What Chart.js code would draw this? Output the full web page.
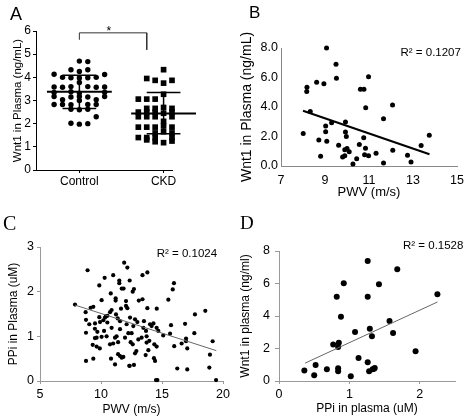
<!DOCTYPE html>
<html>
<head>
<meta charset="utf-8">
<script src="https://cdn.jsdelivr.net/npm/chart.js@4.4.1/dist/chart.umd.min.js"></script>
<style>
  body { margin: 0; background: #fff; }
  #wrap { position: relative; width: 474px; height: 418px; background: #fff; }
  #wrap canvas { position: absolute; }
</style>
</head>
<body>
<div id="wrap">
  <canvas id="panelA" width="237" height="209" style="left:0;top:0"></canvas>
  <canvas id="panelB" width="237" height="209" style="left:237px;top:0"></canvas>
  <canvas id="panelC" width="237" height="209" style="left:0;top:209px"></canvas>
  <canvas id="panelD" width="237" height="209" style="left:237px;top:209px"></canvas>
</div>
<script>
// ---- Panel A: Wnt1 in plasma, Control vs CKD (x = jitter offset around group) ----
const groupLabels = ["Control", "CKD"];
const controlOffset = [0, 0.1, -0.1, 0.1, 0, -0.3, 0.3, -0.2, -0.1, 0, 0.1, 0.2, 0, -0.3, -0.2, -0.1, 0.1, 0.2, 0.3,
  -0.3, -0.1, 0, 0.3, -0.3, -0.1, 0, 0.1, 0.3, -0.2, 0, 0.2, -0.3, -0.2, -0.1, 0.1, 0.2, -0.1, 0, 0.1, 0.2, -0.1, 0, 0.1];
const controlValues = [4.70, 4.68, 4.33, 4.33, 4.25, 4.13, 4.12, 4.0, 3.98, 3.97, 3.98, 4.0, 3.78, 3.58, 3.57, 3.6, 3.6, 3.57, 3.58,
  3.35, 3.38, 3.32, 3.36, 3.17, 3.15, 3.17, 3.15, 3.17, 3.03, 3.0, 3.03, 2.83, 2.83, 2.82, 2.83, 2.83, 2.62, 2.6, 2.62, 2.3, 2.02, 1.98, 2.0];
const ckdOffset = [0, -0.2, -0.1, 0.1, 0.2, 0, 0, -0.3, -0.2, -0.1, 0.2, 0.3, -0.2, -0.1, 0, 0.1, 0.2,
  -0.3, -0.2, -0.1, 0, 0.1, 0.2, -0.3, -0.2, -0.1, 0.1, 0.3, 0, -0.3, -0.2, -0.1, 0, 0.1, 0.2, 0, -0.1, 0.1,
  -0.3, -0.2, -0.1, 0.1, 0.2, 0.3, -0.2, -0.1, 0, 0.1, 0.2];
const ckdValues = [4.33, 3.95, 3.87, 3.87, 3.93, 3.75, 3.27, 3.06, 3.06, 3.06, 3.06, 3.16, 2.66, 2.66, 2.7, 2.66, 2.7,
  2.5, 2.5, 2.5, 2.45, 2.5, 2.5, 2.3, 2.3, 2.3, 2.3, 2.3, 2.1, 1.85, 1.85, 1.85, 1.9, 1.85, 1.85, 1.65, 1.6, 1.6,
  1.4, 1.4, 1.4, 1.4, 1.4, 1.4, 1.3, 1.22, 1.18, 1.25, 1.3];
const groupMean = [3.38, 2.44];
const groupSdHigh = [4.09, 3.34];
const groupSdLow = [2.66, 1.56];
const bracketX = [1, 1, 1.8, 1.8];
const bracketY = [5.62, 5.92, 5.92, 5.19];

// ---- Panel B: Wnt1 vs PWV ----
const bPwv = [9.07, 9.5, 9.52, 8.62, 8.95, 8.18, 8.17, 10.98, 10.61, 10.77, 10.85, 12.07, 8.33, 11.66, 9.93, 9.3, 9.03, 9.03,
  8.01, 9.93, 9.97, 10.76, 13.74, 8.72, 9.08, 9.62, 10.56, 13.37, 10.84, 10.0, 9.9, 10.1, 12.08, 11.32, 10.8, 10.98,
  8.8, 9.8, 9.9, 10.44, 12.75, 12.91, 10.27, 11.66];
const bWnt1 = [8.0, 6.9, 5.95, 5.68, 5.57, 5.34, 5.05, 6.05, 5.2, 5.2, 3.95, 4.14, 3.7, 3.2, 2.98, 2.93, 2.72, 2.32,
  2.2, 2.3, 2.0, 1.91, 2.09, 1.77, 1.68, 1.4, 1.46, 1.39, 1.2, 1.18, 1.1, 0.97, 1.07, 0.86, 0.77, 0.7,
  0.66, 0.61, 0.7, 0.5, 0.73, 0.27, 0.13, 0.2];
const bTrendX = [8.0, 13.75];
const bTrendY = [3.75, 0.8];

// ---- Panel C: PPi vs PWV ----
const cPwv = [11.9, 12.16, 8.9, 13.8, 13.4, 11.0, 10.3, 12.35, 11.5, 11.5, 15.98, 15.88, 12.7, 12.6, 9.86, 11.7, 11.85, 10.8,
  10.05, 11.2, 11.2, 13.1, 13.4, 15.52, 12.05, 7.87, 9.15, 9.37, 12.05, 12.16, 11.64, 13.8, 14.57, 8.74, 10.74, 10.87,
  11.23, 9.86, 10.33, 10.52, 12.38, 11.37, 11.56, 17.7, 18.55, 8.77, 9.92, 9.04, 9.51, 10.52, 12.79, 12.98, 12.1, 13.52,
  14.02, 14.3, 14.15, 12.65, 16.89, 15.74, 10.87, 11.56, 13.47, 14.56, 13.69, 14.7, 10.25, 9.7, 12.51, 8.77, 15.1, 15.66,
  17.65, 19.15, 16.97, 16.97, 16.61, 17.07, 16.0, 18.93, 18.88, 19.43, 16.25, 17.07, 9.64, 10.05, 9.32, 9.64, 10.74,
  11.0, 11.4, 12.43, 12.6, 13.06, 12.79, 12.9, 13.88, 14.37, 14.56, 13.74, 10.82, 11.56, 11.7, 11.4, 11.83, 12.32, 12.7,
  11.15, 8.77, 9.37, 13.66, 14.34, 14.43, 14.51, 14.62, 9.5, 11.28, 10.46, 11.15, 11.97, 12.24, 13.33, 13.74, 13.96,
  10.19, 10.4, 9.5, 9.9, 12.35];
const cPpi = [2.65, 2.54, 2.48, 2.43, 2.37, 2.37, 2.31, 2.25, 2.25, 2.19, 2.19, 2.05, 2.06, 2.0, 2.14, 2.07, 2.07, 1.96,
  1.81, 1.85, 1.8, 1.8, 1.83, 1.82, 1.79, 1.71, 1.64, 1.66, 1.68, 1.63, 1.62, 1.63, 1.62, 1.54, 1.54, 1.59,
  1.49, 1.43, 1.42, 1.46, 1.42, 1.4, 1.34, 1.49, 1.57, 1.37, 1.32, 1.27, 1.29, 1.31, 1.38, 1.32, 1.27, 1.34,
  1.27, 1.29, 1.23, 1.23, 1.28, 1.25, 1.19, 1.16, 1.19, 1.19, 1.12, 1.12, 1.12, 1.1, 1.07, 1.08, 1.02, 1.06,
  1.07, 0.89, 0.95, 0.89, 0.84, 0.73, 0.78, 0.59, 0.3, 0.02, 0.28, 0.26, 0.97, 0.99, 0.81, 0.77, 0.82,
  0.84, 0.87, 0.87, 0.82, 0.93, 0.62, 0.67, 0.69, 0.82, 0.77, 0.86, 0.5, 0.56, 0.52, 0.6, 0.54, 0.34, 0.36,
  0.37, 0.45, 0.5, 0.58, 0.51, 0.45, 0.02, 0.02, 1.17, 1.0, 1.0, 0.97, 0.97, 1.07, 0.97, 1.0, 0.9,
  1.36, 1.45, 0.96, 0.73, 0.34];
const cTrendX = [7.87, 19.45];
const cTrendY = [1.70, 0.68];

// ---- Panel D: Wnt1 vs PPi ----
const dPpi = [1.26, 1.68, 0.92, 1.42, 2.25, 0.82, 1.26, 0.88, 1.57, 1.29, 1.08, 1.62, 1.32, 0.85, 0.77, 0.84, 1.94, 1.13,
  1.26, 0.52, 0.36, 0.68, 0.84, 0.84, 1.36, 1.33, 1.28, 0.5, 1.02, 1.35];
const dWnt1 = [7.38, 6.87, 6.01, 5.95, 5.34, 5.19, 5.19, 3.96, 3.69, 3.22, 3.02, 2.95, 2.75, 2.36, 2.24, 2.09, 1.83, 1.42,
  1.15, 0.98, 0.64, 0.72, 0.78, 0.6, 0.8, 0.72, 0.6, 0.35, 0.29, 0.76];
const dTrendX = [0.37, 2.25];
const dTrendY = [1.1, 4.86];

Chart.defaults.font.family = "'Liberation Sans', Arial, sans-serif";
Chart.defaults.color = "#000";
Chart.defaults.animation = false;

// Free text drawn on the canvas (panel letters, R² labels, asterisk)
const textPlugin = {
  id: "panelText",
  afterDraw(chart, args, opts) {
    const ctx = chart.ctx;
    (opts.items || []).forEach(t => {
      ctx.save();
      ctx.font = t.font;
      ctx.fillStyle = "#000";
      ctx.textAlign = t.align || "left";
      ctx.textBaseline = "alphabetic";
      let x = t.x, y = t.y;
      if (t.dataX !== undefined) {
        x = chart.scales.x.getPixelForValue(t.dataX);
        y = chart.scales.y.getPixelForValue(t.dataY);
      }
      ctx.fillText(t.text, x, y);
      ctx.restore();
    });
  }
};

function toPoints(xs, ys) {
  return xs.map((x, i) => ({ x, y: ys[i] }));
}

function scaleX(o) {
  return {
    type: "linear", min: o.min, max: o.max,
    ticks: { stepSize: o.step, padding: o.pad, font: { size: o.tickSize }, color: "#000",
      includeBounds: false, maxRotation: 0, autoSkip: false, callback: o.fmt || (v => v) },
    afterBuildTicks: o.ticks ? (s => { s.ticks = o.ticks.map(v => ({ value: v })); }) : undefined,
    grid: { display: o.tl > 0, drawOnChartArea: false, drawTicks: o.tl > 0, tickLength: o.tl, color: o.color },
    border: { display: true, color: o.color, width: 1 },
    title: { display: !!o.title, text: o.title, font: { size: o.titleSize }, color: "#000",
      padding: { top: 0, bottom: o.titlePad } },
    afterFit(s) { s.height = o.size; s.paddingLeft = 0; s.paddingRight = 0; }
  };
}

function scaleY(o) {
  return {
    type: "linear", min: o.min, max: o.max,
    ticks: { stepSize: o.step, padding: o.pad, font: { size: o.tickSize }, color: "#000",
      includeBounds: false, callback: o.fmt || (v => v) },
    grid: { display: o.tl > 0, drawOnChartArea: false, drawTicks: o.tl > 0, tickLength: o.tl, color: o.color },
    border: { display: true, color: o.color, width: 1 },
    title: { display: true, text: o.title, font: { size: o.titleSize }, color: "#000",
      padding: { top: o.titlePad, bottom: 0 } },
    afterFit(s) { s.width = o.size; s.paddingTop = 0; s.paddingBottom = 0; }
  };
}

function dots(data, radius, style) {
  return { data, pointRadius: radius, pointStyle: style || "circle", pointBackgroundColor: "#000",
    pointBorderWidth: 0, showLine: false, clip: false, order: 2 };
}

function segment(data, width, color) {
  return { data, showLine: true, borderColor: color || "#000", borderWidth: width, pointRadius: 0,
    fill: false, clip: false, order: 1 };
}

function makeChart(id, datasets, padding, x, y, texts) {
  return new Chart(document.getElementById(id), {
    type: "scatter",
    data: { datasets },
    options: {
      responsive: false,
      layout: { padding },
      plugins: { legend: { display: false }, tooltip: { enabled: false }, panelText: { items: texts } },
      scales: { x, y }
    },
    plugins: [textPlugin]
  });
}

// Panel A
const aSets = [
  dots(toPoints(controlOffset.map(o => 1 + o), controlValues), 2.7),
  dots(toPoints(ckdOffset.map(o => 2 + o), ckdValues), 4, "rect"),
  segment(toPoints(bracketX, bracketY), 1, "#333")
];
groupMean.forEach((m, i) => {
  const c = i + 1;
  aSets.push(segment([{ x: c - 0.385, y: m }, { x: c + 0.385, y: m }], 2));
  aSets.push(segment([{ x: c - 0.2, y: groupSdHigh[i] }, { x: c + 0.2, y: groupSdHigh[i] }], 1.5));
  aSets.push(segment([{ x: c - 0.2, y: groupSdLow[i] }, { x: c + 0.2, y: groupSdLow[i] }], 1.5));
  aSets.push(segment([{ x: c, y: groupSdLow[i] }, { x: c, y: groupSdHigh[i] }], 1.5));
});
makeChart("panelA", aSets, { left: 0, top: 31, right: 65, bottom: 0 },
  scaleX({ min: 0.485, max: 2.1, ticks: [1, 2], fmt: v => groupLabels[v - 1], pad: 1, tl: 3, tickSize: 12,
    color: "#000", size: 39 }),
  scaleY({ min: 0, max: 6, step: 1, pad: 2, tl: 3, tickSize: 12, color: "#000", size: 36,
    title: "Wnt1 in Plasma (ng/mL)", titleSize: 11.5, titlePad: 11 }),
  [
    { text: "A", x: 10, y: 19.5, font: "18px 'Liberation Sans', Arial, sans-serif" },
    { text: "*", dataX: 1.35, dataY: 5.81, align: "center", font: "12px 'Liberation Sans', Arial, sans-serif" }
  ]);

// Panel B
makeChart("panelB", [
  segment(toPoints(bTrendX, bTrendY), 2),
  dots(toPoints(bPwv, bWnt1), 2.5)
], { left: 0, top: 48, right: 17, bottom: 0 },
  scaleX({ min: 7, max: 15, step: 2, pad: 6.8, tl: 0, tickSize: 12.5, color: "#888", size: 43,
    title: "PWV (m/s)", titleSize: 13, titlePad: 8.5 }),
  scaleY({ min: 0, max: 8, step: 2, fmt: v => v.toFixed(1), pad: 3, tl: 0, tickSize: 12.5, color: "#888", size: 44,
    title: "Wnt1 in Plasma (ng/mL)", titleSize: 14, titlePad: 1.6 }),
  [
    { text: "B", x: 12, y: 18.3, font: "17px 'Liberation Sans', Arial, sans-serif" },
    { text: "R² = 0.1207", x: 163.5, y: 56, font: "11.5px 'Liberation Sans', Arial, sans-serif" }
  ]);

// Panel C
makeChart("panelC", [
  segment(toPoints(cTrendX, cTrendY), 1, "#666"),
  dots(toPoints(cPwv, cPpi), 2.1)
], { left: 0, top: 38, right: 14, bottom: 0 },
  scaleX({ min: 5, max: 20, step: 5, pad: 3, tl: 3, tickSize: 12.5, color: "#999", size: 37,
    title: "PWV (m/s)", titleSize: 12, titlePad: 0.8 }),
  scaleY({ min: 0, max: 3, step: 1, pad: 3, tl: 3, tickSize: 12.5, color: "#999", size: 40,
    title: "PPi in Plasma (uM)", titleSize: 12, titlePad: 6.1 }),
  [
    { text: "C", x: 3, y: 20.5, font: "20px 'Liberation Serif', 'Times New Roman', serif" },
    { text: "R² = 0.1024", x: 156.7, y: 47.7, font: "11.5px 'Liberation Sans', Arial, sans-serif" }
  ]);

// Panel D
makeChart("panelD", [
  segment(toPoints(dTrendX, dTrendY), 1, "#666"),
  dots(toPoints(dPpi, dWnt1), 3)
], { left: 0, top: 42, right: 19, bottom: 0 },
  scaleX({ min: 0, max: 2.5, step: 1, pad: 3, tl: 3, tickSize: 12.5, color: "#999", size: 37,
    title: "PPi in plasma (uM)", titleSize: 12, titlePad: 1.8 }),
  scaleY({ min: 0, max: 8, step: 2, pad: 5, tl: 4, tickSize: 12.5, color: "#999", size: 42,
    title: "Wnt1 in plasma (ng/ml)", titleSize: 12, titlePad: 1.1 }),
  [
    { text: "D", x: 3, y: 20, font: "19px 'Liberation Serif', 'Times New Roman', serif" },
    { text: "R² = 0.1528", x: 166, y: 40, font: "11.5px 'Liberation Sans', Arial, sans-serif" }
  ]);
</script>
</body>
</html>
